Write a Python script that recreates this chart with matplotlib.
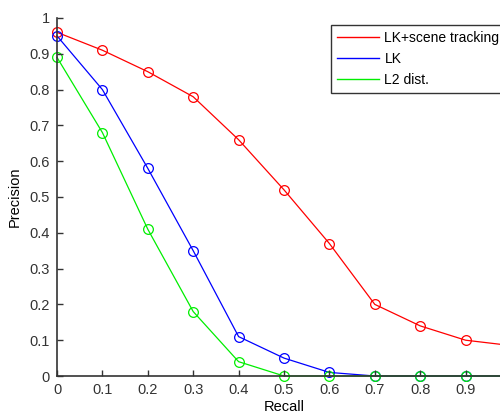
import numpy as np
import matplotlib
matplotlib.use('Agg')
import matplotlib.pyplot as plt

plt.rcParams['font.family'] = ['Liberation Sans', 'DejaVu Sans']

recall = [0, 0.1, 0.2, 0.3, 0.4, 0.5, 0.6, 0.7, 0.8, 0.9, 1.0]
lk_scene = [0.96, 0.91, 0.85, 0.78, 0.66, 0.52, 0.37, 0.20, 0.14, 0.10, 0.085]
lk = [0.95, 0.80, 0.58, 0.35, 0.11, 0.05, 0.01, 0.0, 0.0, 0.0, 0.0]
l2 = [0.89, 0.68, 0.41, 0.18, 0.04, 0.0, 0.0, 0.0, 0.0, 0.0, 0.0]
labels = ['LK+scene tracking', 'LK', 'L2 dist.']
colors = ['red', 'blue', '#00ee00']

fig = plt.figure(figsize=(5, 4.13), dpi=100)
# axes runs past the right edge, as in the cropped original
ax = fig.add_axes([57 / 500, 37 / 413, 454 / 500, 358 / 413])

for y, c, lab in zip([lk_scene, lk, l2], colors, labels):
    ax.plot(recall, y, color=c, lw=0.9, marker='o', ms=7, mfc='none',
            mec=c, mew=0.9, label=lab, clip_on=False)

ax.set_xlim(0, 1)
ax.set_ylim(0, 1)
ax.set_xticks(np.arange(0, 1.0, 0.1))
ax.set_xticklabels(['0', '0.1', '0.2', '0.3', '0.4', '0.5', '0.6', '0.7', '0.8', '0.9'])
ax.set_yticks(np.arange(0, 1.01, 0.1))
ax.set_yticklabels(['0', '0.1', '0.2', '0.3', '0.4', '0.5', '0.6', '0.7', '0.8', '0.9', '1'])
ax.tick_params(direction='in', length=4, width=1, colors='#333333', labelsize=10.5, pad=5)
ax.set_axisbelow(False)
for s in ['top', 'right']:
    ax.spines[s].set_visible(False)
for s in ['left', 'bottom']:
    ax.spines[s].set_color('#333333')
    ax.spines[s].set_linewidth(1.2)

ax.set_xlabel('Recall', fontsize=10.5, labelpad=2)
ax.set_ylabel('Precision', fontsize=10.5, labelpad=6)

handles = [plt.Line2D([], [], color=c, lw=1) for c in colors]
ax.legend(handles, labels, loc='upper left', bbox_to_anchor=(331 / 500, 1 - 25 / 413),
          bbox_transform=fig.transFigure, fontsize=10, frameon=True, fancybox=False,
          edgecolor='#333333', framealpha=1, handlelength=3.0, borderpad=0.45,
          labelspacing=0.5, handletextpad=0.4, borderaxespad=0, handleheight=0.7)

fig.savefig('out.png', dpi=100)
